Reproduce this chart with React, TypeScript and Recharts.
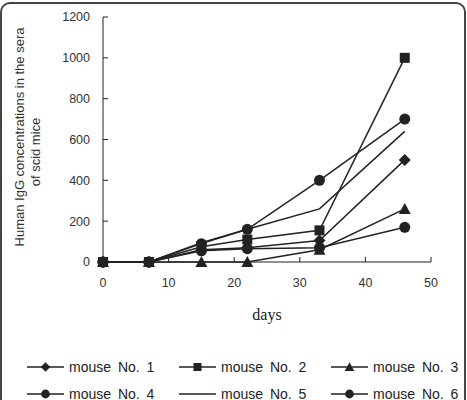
import { LineChart, Line, XAxis, YAxis, Label } from "recharts";

// sampling days and serum IgG per mouse
const days = [0, 7, 15, 22, 33, 46];
const mouse1 = [0, 0, 60, 70, 105, 500];
const mouse2 = [0, 0, 75, 110, 155, 1000];
const mouse3 = [0, 0, 0, 0, 60, 260];
const mouse4 = [0, 0, 90, 160, 400, 700];
const mouse5 = [0, 0, 95, 160, 260, 640];
const mouse6 = [0, 0, 55, 65, 70, 170];

const xTicks = [0, 10, 20, 30, 40, 50];
const yTicks = [0, 200, 400, 600, 800, 1000, 1200];

const series = [
  { key: "m1", name: "mouse No. 1", values: mouse1, shape: "diamond" },
  { key: "m2", name: "mouse No. 2", values: mouse2, shape: "square" },
  { key: "m3", name: "mouse No. 3", values: mouse3, shape: "triangle" },
  { key: "m4", name: "mouse No. 4", values: mouse4, shape: "circle" },
  { key: "m5", name: "mouse No. 5", values: mouse5, shape: "none" },
  { key: "m6", name: "mouse No. 6", values: mouse6, shape: "circle" },
];

// squares sit on top where points overlap
const drawOrder = ["m1", "m3", "m4", "m5", "m6", "m2"];

const data = days.map((day, i) => {
  const row: Record<string, number> = { day };
  series.forEach((s) => (row[s.key] = s.values[i]));
  return row;
});

const INK = "#222";
const TEXT = "#333";
const FONT = "'Liberation Sans', Arial, sans-serif";

function Marker({ cx, cy, shape, size = 1 }: { cx: number; cy: number; shape: string; size?: number }) {
  if (cx == null || cy == null) return <g />;
  const d = 6 * size;
  switch (shape) {
    case "diamond":
      return (
        <polygon
          points={`${cx},${cy - d} ${cx + d},${cy} ${cx},${cy + d} ${cx - d},${cy}`}
          fill={INK}
        />
      );
    case "square":
      return <rect x={cx - 5 * size} y={cy - 5 * size} width={10 * size} height={10 * size} fill={INK} />;
    case "triangle":
      return (
        <polygon
          points={`${cx},${cy - d} ${cx + d},${cy + 5 * size} ${cx - d},${cy + 5 * size}`}
          fill={INK}
        />
      );
    case "circle":
      return <circle cx={cx} cy={cy} r={5.5 * size} fill={INK} />;
    default:
      return <g />;
  }
}

function YTitle() {
  const c1 = 137;
  const c2 = 152;
  return (
    <g fill={TEXT} fontFamily={FONT} fontSize={13}>
      <text x={24} y={c1} transform={`rotate(-90 24 ${c1})`} textAnchor="middle">
        Human IgG concentrations in the sera
      </text>
      <text x={40} y={c2} transform={`rotate(-90 40 ${c2})`} textAnchor="middle">
        of scid mice
      </text>
    </g>
  );
}

function LegendIcon({ shape }: { shape: string }) {
  return (
    <svg width={37} height={14} style={{ display: "block" }}>
      <line x1={0} y1={7} x2={37} y2={7} stroke={INK} strokeWidth={1.5} />
      <Marker cx={18.5} cy={7} shape={shape} size={0.8} />
    </svg>
  );
}

export default function App() {
  const ordered = drawOrder.map((k) => series.find((s) => s.key === k)!);
  return (
    <div
      style={{
        position: "absolute",
        left: 0,
        top: 0,
        width: 467,
        height: 400,
        overflow: "hidden",
        background: "#fff",
      }}
    >
      <div
        style={{
          position: "absolute",
          left: 0,
          top: 2,
          width: 462,
          height: 420,
          border: "2px solid #444",
          borderRadius: 10,
        }}
      />
      <div style={{ position: "absolute", left: 0, top: 0 }}>
        <LineChart
          width={467}
          height={340}
          data={data}
          margin={{ top: 17, right: 36, bottom: 18, left: 0 }}
        >
          <XAxis
            dataKey="day"
            type="number"
            domain={[0, 50]}
            ticks={xTicks}
            height={60}
            stroke={INK}
            tickSize={-5}
            tickMargin={21}
            tick={{ fill: TEXT, fontSize: 12.5, fontFamily: FONT }}
          >
            <Label
              value="days"
              position="insideBottom"
              offset={2}
              style={{ fill: INK, fontSize: 16, fontFamily: "'Liberation Serif', 'Times New Roman', serif" }}
            />
          </XAxis>
          <YAxis
            type="number"
            domain={[0, 1200]}
            ticks={yTicks}
            width={103}
            stroke={INK}
            tickSize={-5}
            tickMargin={18}
            tick={{ fill: TEXT, fontSize: 12.5, fontFamily: FONT }}
            label={<YTitle />}
          />
          {ordered.map((s) => (
            <Line
              key={s.key}
              dataKey={s.key}
              name={s.name}
              stroke={INK}
              strokeWidth={1.5}
              isAnimationActive={false}
              activeDot={false}
              dot={(p: any) => (
                <Marker key={`${s.key}-${p.index}`} cx={p.cx} cy={p.cy} shape={s.shape} />
              )}
            />
          ))}
        </LineChart>
      </div>
      <div
        style={{
          position: "absolute",
          left: 27,
          top: 357,
          display: "grid",
          gridTemplateColumns: "152px 152px 152px",
          rowGap: 8,
          fontFamily: FONT,
          fontSize: 14,
          color: INK,
        }}
      >
        {series.map((s) => (
          <div key={s.key} style={{ display: "flex", alignItems: "center", height: 19 }}>
            <LegendIcon shape={s.shape} />
            <span style={{ marginLeft: 5, wordSpacing: 3, whiteSpace: "nowrap" }}>{s.name}</span>
          </div>
        ))}
      </div>
    </div>
  );
}
